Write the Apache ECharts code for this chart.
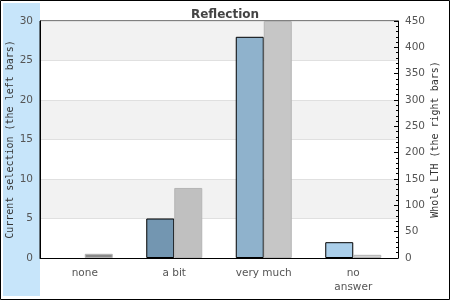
<!DOCTYPE html>
<html>
<head>
<meta charset="utf-8">
<script src="https://cdn.jsdelivr.net/npm/echarts@6/dist/echarts.min.js"></script>
<style>
  html, body { margin: 0; padding: 0; background: #fff; }
  #chart { width: 450px; height: 300px; }
</style>
</head>
<body>
<div id="chart"></div>
<script>
const categories = ['none', 'a bit', 'very much', 'no\nanswer'];
const currentSelection = [0, 5, 28, 2];
const wholeLTH = [8, 133, 450, 6];
const leftTicks = [0, 5, 10, 15, 20, 25, 30];
const rightTicks = [0, 50, 100, 150, 200, 250, 300, 350, 400, 450];

// per-bar fill colours
const leftColors = ['#7396b1', '#7396b1', '#8fb2cc', '#abcfea'];
const rightColors = ['#8a8a8a', '#c0c0c0', '#c6c6c6', '#d3d3d3'];

const chart = echarts.init(document.getElementById('chart'));

const labelFont = { fontFamily: 'DejaVu Sans', fontSize: 10.5, color: '#555' };
const nameFont = { fontFamily: 'DejaVu Sans Mono', fontSize: 10, color: '#333' };

const option = {
    animation: false,
    title: {
        text: 'Reflection',
        left: 'center',
        top: 4,
        textStyle: { fontFamily: 'DejaVu Sans', fontSize: 12, fontWeight: 'bold', color: '#444' }
    },
    graphic: [
        {
            type: 'rect',
            z: -10,
            shape: { x: 3, y: 3, width: 37, height: 293 },
            style: { fill: '#c7e5fa' }
        },
        {
            type: 'rect',
            z: 100,
            shape: { x: 0.5, y: 0.5, width: 449, height: 299 },
            style: { fill: 'none', stroke: '#000', lineWidth: 1 }
        }
    ],
    grid: {
        left: 40,
        right: 52,
        top: 21,
        bottom: 42,
        outerBoundsMode: 'none',
        show: true,
        borderColor: '#000',
        borderWidth: 1,
        backgroundColor: 'transparent'
    },
    xAxis: {
        type: 'category',
        data: categories,
        axisLine: { lineStyle: { color: '#000' } },
        axisTick: { show: false },
        axisLabel: Object.assign({ margin: 8, lineHeight: 14 }, labelFont)
    },
    yAxis: [
        {
            type: 'value',
            min: leftTicks[0],
            max: leftTicks[leftTicks.length - 1],
            interval: 5,
            name: 'Current selection (the left bars)',
            nameLocation: 'middle',
            nameGap: 25,
            nameMoveOverlap: false,
            nameTextStyle: nameFont,
            axisLine: { show: true, lineStyle: { color: '#000' } },
            axisTick: { show: false },
            axisLabel: Object.assign({ margin: 7 }, labelFont),
            splitLine: { show: true, lineStyle: { color: '#e0e0e0' } },
            splitArea: { show: true, areaStyle: { color: ['#ffffff', '#f2f2f2'] } }
        },
        {
            type: 'value',
            min: rightTicks[0],
            max: rightTicks[rightTicks.length - 1],
            interval: 50,
            name: 'Whole LTH (the right bars)',
            nameLocation: 'middle',
            nameGap: 32,
            nameMoveOverlap: false,
            nameTextStyle: nameFont,
            axisLine: { show: true, lineStyle: { color: '#000' } },
            axisTick: { show: true, inside: true, length: 4, lineStyle: { color: '#000' } },
            minorTick: { show: true, splitNumber: 5, length: 2, lineStyle: { color: '#000' } },
            axisLabel: Object.assign({ margin: 7 }, labelFont),
            splitLine: { show: false }
        }
    ],
    series: [
        {
            name: 'Current selection',
            type: 'bar',
            yAxisIndex: 0,
            barWidth: 28,
            barGap: '0%',
            data: currentSelection.map((v, i) => ({
                value: v,
                itemStyle: { color: leftColors[i], borderColor: '#000', borderWidth: v > 0 ? 1 : 0 }
            }))
        },
        {
            name: 'Whole LTH',
            type: 'bar',
            yAxisIndex: 1,
            barWidth: 28,
            data: wholeLTH.map((v, i) => ({
                value: v,
                itemStyle: { color: rightColors[i], borderColor: '#b4b4b4', borderWidth: v > 0 ? 1 : 0 }
            }))
        }
    ]
};

chart.setOption(option);
</script>
</body>
</html>
